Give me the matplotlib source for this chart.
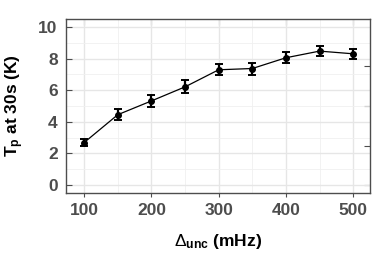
import numpy as np
import matplotlib
matplotlib.use("Agg")
import matplotlib.pyplot as plt
from matplotlib.ticker import MultipleLocator

# values
delta_unc = [100, 150, 200, 250, 300, 350, 400, 450, 500]   # mHz
tp_30s = [2.69, 4.45, 5.32, 6.21, 7.29, 7.37, 8.05, 8.47, 8.30]  # K
tp_err = [0.21, 0.34, 0.38, 0.41, 0.36, 0.38, 0.34, 0.31, 0.32]

grey = '#4D4D4D'
plt.rcParams['font.family'] = ['Liberation Sans', 'DejaVu Sans']
plt.rcParams['mathtext.fontset'] = 'custom'
plt.rcParams['mathtext.rm'] = 'Liberation Sans'
plt.rcParams['mathtext.it'] = 'Liberation Sans:italic'
plt.rcParams['mathtext.bf'] = 'Liberation Sans:bold'

fig = plt.figure(figsize=(3.9, 2.6), dpi=100)
ax = fig.add_axes([66/390, 1 - 193/260, 304/390, 174/260])

# grid like ggplot theme_bw
ax.xaxis.set_major_locator(MultipleLocator(100))
ax.xaxis.set_minor_locator(MultipleLocator(50))
ax.yaxis.set_major_locator(MultipleLocator(2))
ax.yaxis.set_minor_locator(MultipleLocator(1))
ax.grid(which='major', color='#E6E6E6', linewidth=1.0)
ax.grid(which='minor', color='#F0F0F0', linewidth=0.6)
ax.set_axisbelow(True)

ax.errorbar(delta_unc, tp_30s, yerr=tp_err, fmt='o-', color='black',
            markersize=4, linewidth=0.9, elinewidth=1.6, capsize=3.2, capthick=1.4)

ax.set_xlim(73, 525)
ax.set_ylim(-0.5, 10.5)

for s in ax.spines.values():
    s.set_color(grey)
    s.set_linewidth(1.0)

ax.tick_params(which='minor', length=0)
ax.tick_params(axis='x', which='major', direction='out', length=3, color=grey,
               labelsize=12.5, labelcolor=grey, pad=4)
ax.tick_params(axis='y', which='major', direction='in', length=4, color=grey,
               labelsize=12.5, labelcolor=grey, pad=6)
for lab in ax.get_xticklabels() + ax.get_yticklabels():
    lab.set_fontweight('bold')

# secondary (unlabelled) ticks on top and right
ax_top = ax.secondary_xaxis('top')
ax_top.set_xticks([100, 200, 300, 400, 500])
ax_top.tick_params(direction='in', length=4, color=grey, labeltop=False)
ax_top.spines['top'].set_visible(False)
ax_right = ax.secondary_yaxis('right')
ax_right.set_yticks([0, 2.5, 5, 7.5])
ax_right.tick_params(direction='in', length=4, color=grey, labelright=False)
ax_right.spines['right'].set_visible(False)

ax.set_xlabel(r'$\Delta_{\mathbf{unc}}$ (mHz)', fontsize=12.5, fontweight='bold', labelpad=10)
ax.set_ylabel(r'T$_\mathbf{p}$ at 30s (K)', fontsize=12.5, fontweight='bold', labelpad=9)

fig.savefig('out.png', dpi=100)
